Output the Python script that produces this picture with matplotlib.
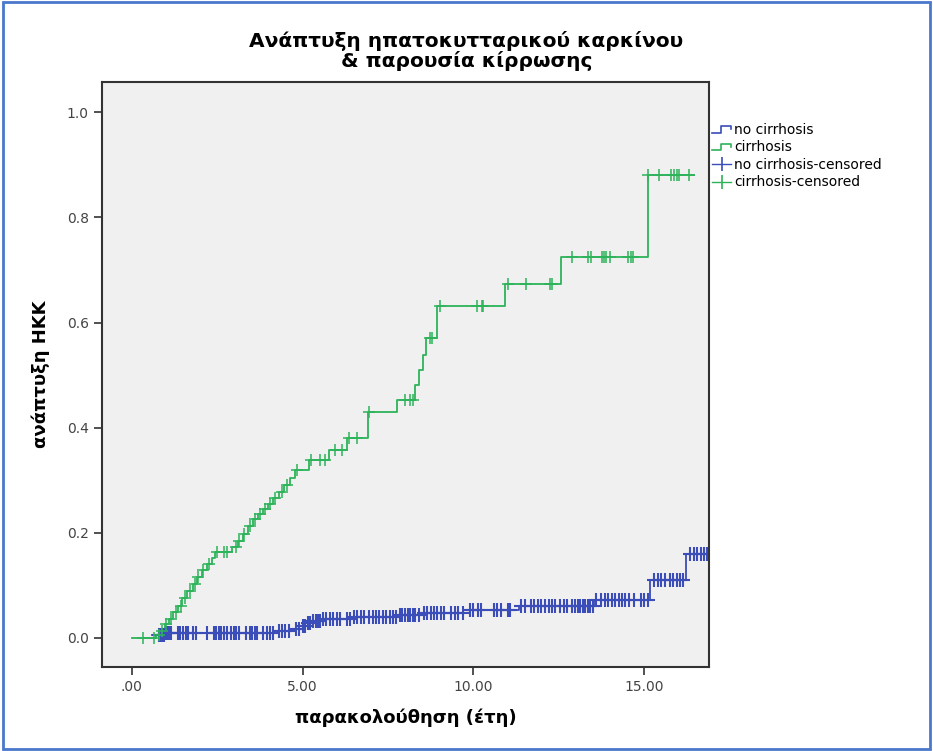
import numpy as np
import matplotlib
matplotlib.use("Agg")
from matplotlib import pyplot as plt
from matplotlib.lines import Line2D
from matplotlib.patches import Rectangle
from matplotlib.legend_handler import HandlerBase

plt.rcParams['font.family'] = ['DejaVu Sans']

# cirrhosis: step times (years) and cumulative incidence after each step
cir_t = [0.0, 0.70, 0.85, 0.98, 1.10, 1.22, 1.35, 1.48, 1.62, 1.78, 1.92, 2.05,
         2.20, 2.35, 2.45, 2.93, 3.10, 3.25, 3.40, 3.55, 3.70, 3.85, 4.00, 4.15,
         4.30, 4.45, 4.62, 4.78, 5.20, 5.78, 6.30, 6.93, 7.76, 8.28, 8.42, 8.53,
         8.62, 8.93, 10.93, 12.56, 15.10, 16.45]
cir_v = [0.0, 0.005, 0.012, 0.025, 0.035, 0.048, 0.060, 0.075, 0.088, 0.102, 0.115, 0.128,
         0.140, 0.152, 0.163, 0.173, 0.183, 0.198, 0.213, 0.225, 0.235, 0.245, 0.255, 0.265,
         0.278, 0.290, 0.303, 0.320, 0.338, 0.357, 0.380, 0.430, 0.453, 0.481, 0.510, 0.538,
         0.570, 0.632, 0.674, 0.725, 0.880, 0.880]
cir_cens = [0.32, 0.64, 0.80, 0.90, 1.00, 1.15, 1.30, 1.45, 1.55, 1.70, 1.85, 1.95,
            2.10, 2.25, 2.50, 2.70, 2.80, 3.05, 3.15, 3.30, 3.45, 3.60, 3.75, 3.90,
            4.05, 4.20, 4.40, 4.55, 4.85, 5.25, 5.50, 5.65, 5.95, 6.15, 6.35, 6.60,
            6.95, 8.00, 8.15, 8.24, 8.73, 8.78, 9.03, 10.10, 10.25, 10.29, 11.02, 11.53,
            12.24, 12.31, 12.90, 13.37, 13.44, 13.78, 13.83, 13.89, 14.00, 14.54, 14.60,
            14.68, 15.10, 15.43, 15.80, 15.88, 15.95, 16.03, 16.32]

# no cirrhosis
noc_t = [0.60, 1.00, 4.20, 4.70, 5.00, 5.15, 5.30, 5.60, 6.50, 7.80, 8.50, 9.90,
         11.35, 13.55, 15.17, 16.22, 16.90]
noc_v = [0.004, 0.008, 0.012, 0.016, 0.022, 0.028, 0.031, 0.036, 0.039, 0.043, 0.047, 0.053,
         0.061, 0.071, 0.109, 0.160, 0.160]
noc_cens = [0.80, 0.85, 0.90, 0.95, 1.00, 1.05, 1.10, 1.15, 1.35, 1.42, 1.50, 1.58,
            1.65, 1.80, 1.88, 2.20, 2.40, 2.48, 2.55, 2.62, 2.70, 2.78, 2.90, 2.98,
            3.05, 3.15, 3.35, 3.45, 3.52, 3.60, 3.68, 3.85, 3.95, 4.05, 4.15, 4.30,
            4.40, 4.50, 4.60, 4.80, 4.90, 5.00, 5.08, 5.15, 5.22, 5.30, 5.38, 5.45,
            5.52, 5.60, 5.70, 5.80, 5.90, 6.00, 6.10, 6.30, 6.40, 6.50, 6.60, 6.70,
            6.80, 6.95, 7.05, 7.15, 7.25, 7.35, 7.45, 7.55, 7.65, 7.75, 7.85, 7.92,
            8.00, 8.08, 8.15, 8.22, 8.30, 8.40, 8.55, 8.65, 8.75, 8.85, 8.95, 9.05,
            9.15, 9.35, 9.45, 9.55, 9.70, 9.90, 10.00, 10.15, 10.22, 10.60, 10.70, 10.80,
            11.00, 11.07, 11.40, 11.50, 11.68, 11.78, 11.88, 11.98, 12.10, 12.20, 12.30,
            12.40, 12.55, 12.65, 12.75, 12.90, 12.98, 13.05, 13.12, 13.20, 13.28, 13.35,
            13.42, 13.50, 13.58, 13.75, 13.85, 13.95, 14.05, 14.15, 14.25, 14.35, 14.45,
            14.55, 14.70, 14.90, 15.00, 15.10, 15.30, 15.40, 15.50, 15.62, 15.75, 15.85,
            15.95, 16.05, 16.15, 16.35, 16.45, 16.55, 16.65, 16.75, 16.85]

xticks = [0, 5, 10, 15]
xtick_labels = ['.00', '5.00', '10.00', '15.00']
yticks = [0.0, 0.2, 0.4, 0.6, 0.8, 1.0]

blue = '#3A4DB8'
green = '#2DB35A'


def step_value(t, v, x):
    i = np.searchsorted(t, x, side='right') - 1
    return np.array(v)[np.clip(i, 0, len(v) - 1)]


class StepHandler(HandlerBase):
    def create_artists(self, legend, orig, xd, yd, w, h, fs, trans):
        x0, y0 = -xd, -yd
        xs = [x0, x0 + 0.45 * w, x0 + 0.45 * w, x0 + w, x0 + w]
        ys = [y0 + 0.15 * h, y0 + 0.15 * h, y0 + 0.8 * h, y0 + 0.8 * h, y0 + 0.5 * h]
        ln = Line2D(xs, ys, color=orig.get_color(), lw=1.2, transform=trans)
        return [ln]


fig = plt.figure(figsize=(9.33, 7.51), dpi=100)
ax = fig.add_axes([0.1093, 0.1119, 0.6507, 0.7789])
ax.set_facecolor('#F0F0F0')

l1, = ax.step(noc_t, noc_v, where='post', color=blue, lw=1.3)
l2, = ax.step(cir_t, cir_v, where='post', color=green, lw=1.3)
ax.plot(noc_cens, step_value(noc_t, noc_v, noc_cens), ls='none', marker='+',
        ms=10, mew=1.5, color=blue)
ax.plot(cir_cens, step_value(cir_t, cir_v, cir_cens), ls='none', marker='+',
        ms=9, mew=1.1, color=green)

ax.set_xlim(-0.87, 16.9)
ax.set_ylim(-0.056, 1.058)
ax.set_xticks(xticks)
ax.set_xticklabels(xtick_labels)
ax.set_yticks(yticks)
ax.set_yticklabels(['%.1f' % y for y in yticks])
ax.tick_params(direction='out', length=6, width=1.2, color='#333333',
               labelsize=10, labelcolor='#444444')
for s in ax.spines.values():
    s.set_color('#333333')
    s.set_linewidth(1.5)

ax.set_xlabel('παρακολούθηση (έτη)', fontsize=13, fontweight='bold', labelpad=10)
ax.set_ylabel('ανάπτυξη HKK', fontsize=13, fontweight='bold', labelpad=12)
fig.text(0.5, 1 - 51 / 751, 'Ανάπτυξη ηπατοκυτταρικού καρκίνου\n& παρουσία κίρρωσης',
         ha='center', va='center', fontsize=14.5, linespacing=1.0,
         fontweight='bold')

h3 = Line2D([], [], color=blue, marker='|', ms=10, mew=1.2, lw=1.0)
h4 = Line2D([], [], color=green, marker='|', ms=10, mew=1.2, lw=1.0)
fig.legend([l1, l2, h3, h4],
           ['no cirrhosis', 'cirrhosis', 'no cirrhosis-censored', 'cirrhosis-censored'],
           handler_map={l1: StepHandler(), l2: StepHandler()},
           loc='upper left', bbox_to_anchor=(712 / 933, 1 - 123 / 751),
           frameon=False, fontsize=10, handlelength=1.4, handletextpad=0.2,
           labelspacing=0.25, borderpad=0, borderaxespad=0)

fig.patches.append(Rectangle((0.003, 0.003), 0.994, 0.994, transform=fig.transFigure,
                             fill=False, edgecolor='#4A78CC', lw=2))

fig.savefig('out.png', dpi=100)
